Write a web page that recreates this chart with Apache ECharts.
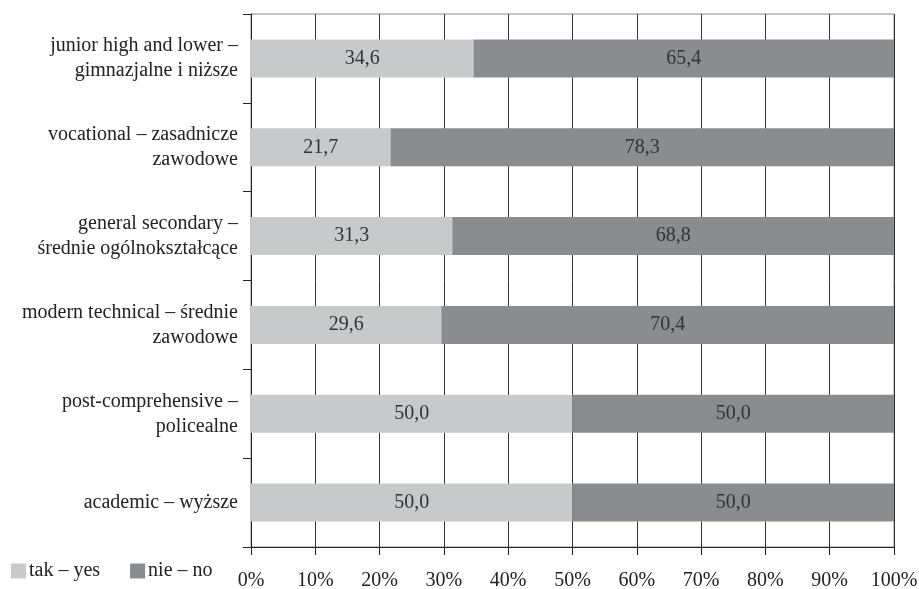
<!DOCTYPE html>
<html>
<head>
<meta charset="utf-8">
<script src="https://cdn.jsdelivr.net/npm/echarts@6/dist/echarts.min.js"></script>
<style>html,body{margin:0;padding:0;background:#fff}#c{width:919px;height:589px}</style>
</head>
<body>
<div id="c"></div>
<script>
var categories = [
  "junior high and lower –\ngimnazjalne i niższe",
  "vocational – zasadnicze\nzawodowe",
  "general secondary –\nśrednie ogólnokształcące",
  "modern technical – średnie\nzawodowe",
  "post-comprehensive –\npolicealne",
  "academic – wyższe"
];
var yesValues = [34.6, 21.7, 31.3, 29.6, 50.0, 50.0];
var noValues = [65.4, 78.3, 68.8, 70.4, 50.0, 50.0];
var seriesNames = ["tak – yes", "nie – no"];
var xTicks = [0, 10, 20, 30, 40, 50, 60, 70, 80, 90, 100];

var font = "'Liberation Serif', 'DejaVu Serif', serif";
var chart = echarts.init(document.getElementById('c'));
function fmt(p){ return p.value.toFixed(1).replace('.', ','); }
chart.setOption({
  animation: false,
  textStyle: {fontFamily: font},
  grid: {left: 251, right: 25, top: 14, bottom: 42, show: true, borderColor: '#8a8a8a', borderWidth: 1, containLabel: false, outerBoundsMode: 'none'},
  legend: {
    left: 6, top: 556, itemWidth: 15, itemHeight: 15, itemGap: 30,
    icon: 'rect',
    textStyle: {fontFamily: font, fontSize: 20, color: '#222', padding: [0,0,0,-2]},
    data: seriesNames
  },
  xAxis: {
    type: 'value', min: xTicks[0], max: xTicks[xTicks.length-1], interval: 10,
    axisLine: {show: true, lineStyle: {color: '#222', width: 1}},
    axisTick: {show: true, length: 8, lineStyle: {color: '#222'}},
    axisLabel: {formatter: '{value}%', fontFamily: font, fontSize: 20, color: '#222', margin: 24},
    splitLine: {show: true, lineStyle: {color: '#333', width: 1}}
  },
  yAxis: {
    type: 'category', inverse: true, data: categories,
    axisLine: {show: true, lineStyle: {color: '#222', width: 1}},
    axisTick: {show: true, length: 8, lineStyle: {color: '#222'}},
    axisLabel: {fontFamily: font, fontSize: 20, color: '#222', margin: 13, lineHeight: 25, align: 'right'}
  },
  series: [
    {name: seriesNames[0], type: 'bar', stack: 'a', data: yesValues, barWidth: 38,
     itemStyle: {color: '#c8c9cb'},
     label: {show: true, position: 'inside', formatter: fmt, fontFamily: font, fontSize: 20, color: '#333'}},
    {name: seriesNames[1], type: 'bar', stack: 'a', data: noValues, barWidth: 38,
     itemStyle: {color: '#8b8c90'},
     label: {show: true, position: 'inside', formatter: fmt, fontFamily: font, fontSize: 20, color: '#333'}}
  ]
});
</script>
</body>
</html>
